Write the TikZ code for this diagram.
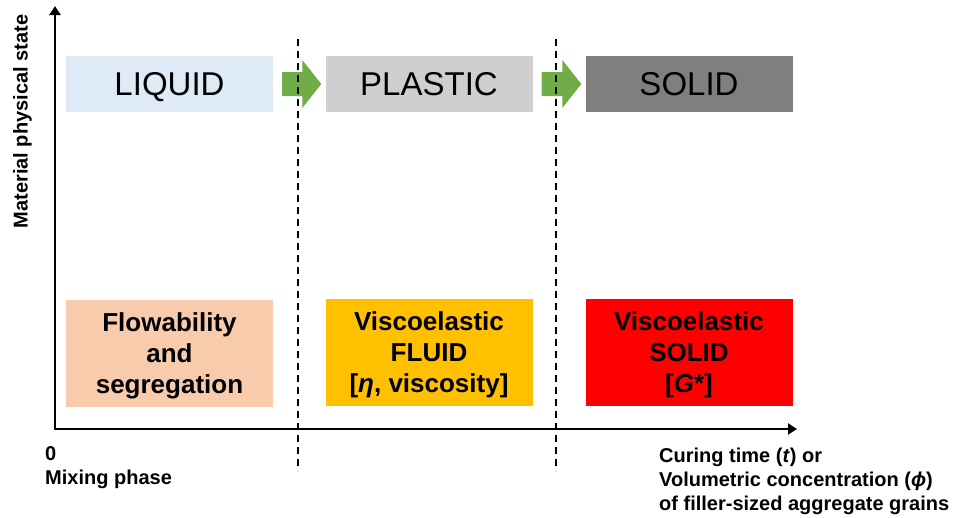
\documentclass[tikz,border=0pt]{standalone}
\usepackage{fontspec}
\setmainfont{Liberation Sans}
\usetikzlibrary{arrows.meta,calc,positioning}
\definecolor{liquidblue}{HTML}{DEEBF7}
\definecolor{plasticgrey}{HTML}{D0CECE}
\definecolor{solidgrey}{HTML}{7F7F7F}
\definecolor{stepgreen}{HTML}{70AD47}
\definecolor{flowpeach}{HTML}{F8CBAD}
\definecolor{fluidamber}{HTML}{FFC000}
\definecolor{solidred}{HTML}{FF0000}
\newcommand{\axfont}{\fontsize{20}{24}\selectfont\bfseries}

\begin{document}
\begin{tikzpicture}[x=1pt,y=-1pt,
    stage/.style={minimum width=207pt,minimum height=56pt,inner sep=0pt,
      text height=23.6pt,text depth=0pt,font=\fontsize{33}{40}\selectfont},
    regime/.style={minimum width=207pt,minimum height=107pt,inner sep=0pt,align=center,
      text depth=0pt,font=\fontsize{26}{31}\selectfont\bfseries},
    axis/.style={line width=2.7pt,{Triangle[length=9pt,width=11pt]}-{Triangle[length=9pt,width=11pt]}},
    border/.style={line width=1.3pt,dash pattern=on 7pt off 5pt}]
  \useasboundingbox (0,0) rectangle (958,517);
  % states along the top
  \foreach \n/\x/\c/\t in {liquid/169.5/liquidblue/LIQUID,plastic/429/plasticgrey/PLASTIC,solid/689/solidgrey/SOLID}
    \node[stage,fill=\c] (\n) at (\x,84) {\t};
  \foreach \a/\b in {liquid/plastic,plastic/solid}
    \fill[stepgreen] ($(\a.east)+(9,-12)$) -- ($(\b.west)+(-23,-12)$) -- ($(\b.west)+(-23,-24)$)
      -- ($(\b.west)+(-4,0)$) -- ($(\b.west)+(-23,24)$) -- ($(\b.west)+(-23,12)$)
      -- ($(\a.east)+(9,12)$) -- cycle;
  % rheological regimes
  \node[regime,fill=flowpeach] (flow) at (169.5,353) {Flowability\\and\\segregation};
  \node[regime,fill=fluidamber] (fluid) at (429,352) {Viscoelastic\\FLUID\\{[}\textit{η}, viscosity{]}};
  \node[regime,fill=solidred] (vsolid) at (689,352) {Viscoelastic\\SOLID\\{[}\textit{G}*{]}};
  % axes
  \coordinate (o) at (55,429);
  \coordinate (ytop) at (55,6);
  \coordinate (xend) at (797,429);
  \draw[axis] (ytop) -- (o) -- (xend);
  \foreach \i/\x in {1/298,2/556} {
    \coordinate (d\i top) at (\x,39);
    \coordinate (d\i bot) at (\x,471);
    \draw[border] (d\i top) -- (d\i bot);
  }
  \node[font=\axfont,rotate=90,anchor=base] (ylab) at (27.5,121.5) {Material physical state};
  \node[font=\axfont,align=left,anchor=north west,inner sep=0pt] (xstart) at (45,446.5) {0\\Mixing phase};
  \node[font=\axfont,align=left,anchor=north west,inner sep=0pt] (xlab) at (659,448)
    {Curing time (\textit{t}) or\\Volumetric concentration (\textit{ϕ})\\of filler-sized aggregate grains};
\end{tikzpicture}
\end{document}
